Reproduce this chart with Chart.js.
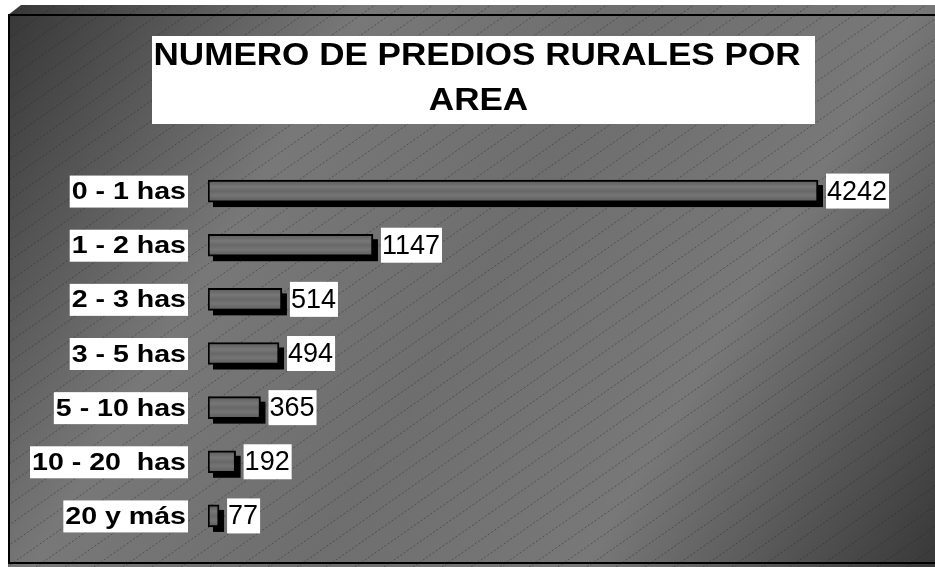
<!DOCTYPE html>
<html>
<head>
<meta charset="utf-8">
<script src="https://cdn.jsdelivr.net/npm/chart.js@4/dist/chart.umd.min.js"></script>
<style>
  html, body { margin: 0; padding: 0; background: #fff; }
  #wrap { width: 935px; height: 567px; }
</style>
</head>
<body>
<div id="wrap"><canvas id="chart" width="935" height="567"></canvas></div>
<script>
// Datos del gráfico
const categories = ['0 - 1 has', '1 - 2 has', '2 - 3 has', '3 - 5 has', '5 - 10 has', '10 - 20  has', '20 y más'];
const predios = [4242, 1147, 514, 494, 365, 192, 77];
const titleLines = ['NUMERO DE PREDIOS RURALES POR', 'AREA'];

const FONT = '"Liberation Sans", Arial, sans-serif';

// Fondo con marco 3D, degradado y rayas diagonales
const backgroundPlugin = {
    id: 'background',
    beforeDraw(chart) {
        const ctx = chart.ctx;
        const W = chart.width, H = chart.height;
        ctx.save();
        ctx.fillStyle = '#fff';
        ctx.fillRect(0, 0, W, H);

        const grad = ctx.createLinearGradient(8, 15, W, H);
        grad.addColorStop(0, '#383838');
        grad.addColorStop(0.28, '#787878');
        grad.addColorStop(0.5, '#6e6e6e');
        grad.addColorStop(0.72, '#787878');
        grad.addColorStop(1, '#383838');

        // cara superior
        ctx.beginPath();
        ctx.moveTo(8, 15);
        ctx.lineTo(21, 5);
        ctx.lineTo(W, 5);
        ctx.lineTo(W, 15);
        ctx.closePath();
        ctx.fillStyle = grad;
        ctx.fill();

        // cara frontal
        ctx.fillStyle = grad;
        ctx.fillRect(8, 15, W - 8, H - 15);

        // rayas
        ctx.beginPath();
        ctx.rect(8, 5, W - 8, H - 5);
        ctx.clip();
        ctx.strokeStyle = 'rgba(35,35,35,0.45)';
        ctx.lineWidth = 1;
        ctx.setLineDash([2, 2]);
        ctx.beginPath();
        for (let x0 = 7 - 29 * 30; x0 < W + 29; x0 += 29) {
            ctx.moveTo(x0, H);
            ctx.lineTo(x0 + H / 0.7, 0);
        }
        ctx.stroke();
        ctx.setLineDash([]);

        // bordes negros
        ctx.fillStyle = '#000';
        ctx.fillRect(8, 14, W - 8, 2);
        ctx.fillRect(8, 14, 2, 550);
        ctx.fillRect(8, 562, W - 8, 2);
        ctx.restore();

        // título
        ctx.save();
        ctx.fillStyle = '#fff';
        ctx.fillRect(152, 36, 663, 88);
        ctx.fillStyle = '#000';
        ctx.font = 'bold 32px ' + FONT;
        ctx.textBaseline = 'alphabetic';
        ctx.textAlign = 'center';
        const w1 = ctx.measureText(titleLines[0]).width;
        const sx = 647 / w1;
        ctx.save();
        ctx.translate(477, 65);
        ctx.scale(sx, 1);
        ctx.fillText(titleLines[0], 0, 0);
        ctx.restore();
        ctx.save();
        ctx.translate(478.5, 110);
        ctx.scale(sx, 1);
        ctx.fillText(titleLines[1], 0, 0);
        ctx.restore();
        ctx.restore();
    }
};

// Sombra de las barras (rectángulos negros desplazados)
const shadowPlugin = {
    id: 'barShadow',
    beforeDatasetsDraw(chart) {
        const ctx = chart.ctx;
        const meta = chart.getDatasetMeta(0);
        ctx.save();
        ctx.fillStyle = '#000';
        meta.data.forEach(el => {
            const p = el.getProps(['x', 'y', 'base', 'height'], true);
            const left = Math.min(p.base, p.x);
            ctx.fillRect(left + 5, p.y - p.height / 2 + 5, Math.abs(p.x - p.base), p.height);
        });
        ctx.restore();
    }
};

// Etiquetas de categorías y valores con fondo blanco
const labelsPlugin = {
    id: 'boxLabels',
    afterDraw(chart) {
        const ctx = chart.ctx;
        const yScale = chart.scales.y;
        const xScale = chart.scales.x;
        ctx.save();
        ctx.textBaseline = 'middle';
        ctx.textAlign = 'left';
        categories.forEach((cat, i) => {
            const y = yScale.getPixelForValue(i);

            ctx.font = 'bold 24px ' + FONT;
            const sx = 1.19;
            const tw = ctx.measureText(cat).width * sx;
            const boxRight = 188;
            const boxLeft = boxRight - tw - 4;
            ctx.fillStyle = '#fff';
            ctx.fillRect(boxLeft, y - 15.5, boxRight - boxLeft, 32);
            ctx.fillStyle = '#000';
            ctx.save();
            ctx.translate(boxLeft + 2, y + 1.5);
            ctx.scale(sx, 1);
            ctx.fillText(cat, 0, 0);
            ctx.restore();

            const val = String(predios[i]);
            ctx.font = '27px ' + FONT;
            const vw = ctx.measureText(val).width;
            const barEnd = xScale.getPixelForValue(predios[i]);
            const vLeft = barEnd + 8;
            ctx.fillStyle = '#fff';
            ctx.fillRect(vLeft, y - 17.5, vw + 3, 35);
            ctx.fillStyle = '#000';
            ctx.fillText(val, vLeft + 1, y + 1);
        });
        ctx.restore();
    }
};

const ctx = document.getElementById('chart').getContext('2d');
const chart = new Chart(ctx, {
    type: 'bar',
    data: {
        labels: categories,
        datasets: [{
            data: predios,
            backgroundColor: (c) => {
                const chart = c.chart;
                const yScale = chart.scales.y;
                const yc = yScale ? yScale.getPixelForValue(c.dataIndex) : NaN;
                if (!Number.isFinite(yc)) return '#666';
                const g = chart.ctx.createLinearGradient(0, yc - 11, 0, yc + 11);
                g.addColorStop(0, '#5a5a5a');
                g.addColorStop(0.3, '#777777');
                g.addColorStop(0.5, '#686868');
                g.addColorStop(0.7, '#747474');
                g.addColorStop(1, '#5a5a5a');
                return g;
            },
            borderColor: '#000',
            borderWidth: 2,
            borderSkipped: false,
            barThickness: 22
        }]
    },
    options: {
        indexAxis: 'y',
        responsive: false,
        animation: false,
        layout: { padding: { left: 208, right: 8, top: 164, bottom: 24 } },
        scales: {
            x: { display: false, min: 0, max: 5000 },
            y: { display: false }
        },
        plugins: {
            legend: { display: false },
            tooltip: { enabled: false }
        }
    },
    plugins: [backgroundPlugin, shadowPlugin, labelsPlugin]
});
</script>
</body>
</html>
